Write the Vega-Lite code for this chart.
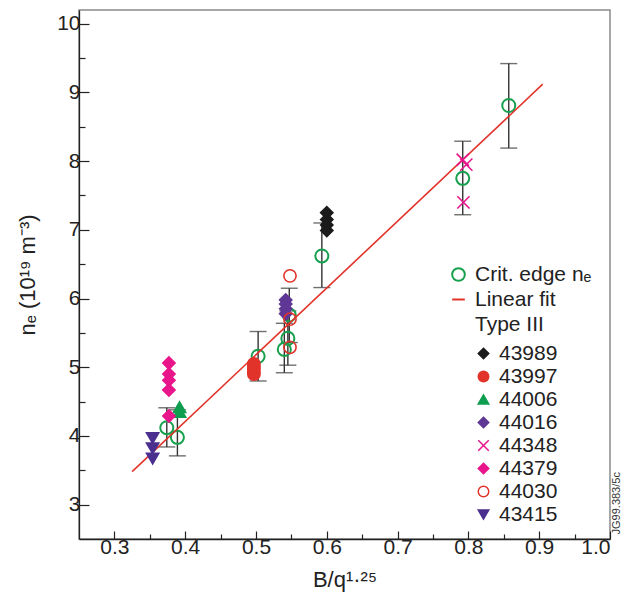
{
  "$schema": "https://vega.github.io/schema/vega-lite/v6.json",
  "width": 531,
  "height": 529,
  "autosize": {"type": "none"},
  "padding": {"left": 79, "top": 10, "right": 14, "bottom": 62},
  "background": "white",
  "config": {
    "view": {"stroke": "#8a8a8a", "strokeWidth": 1.5},
    "font": "Liberation Sans",
    "axis": {
      "grid": false,
      "domainColor": "#222",
      "domainWidth": 1.3,
      "tickColor": "#222",
      "tickWidth": 1.2,
      "labelFont": "Liberation Sans",
      "labelFontSize": 21,
      "labelColor": "#222",
      "titleFont": "Liberation Sans",
      "titleFontSize": 22,
      "titleFontWeight": "normal",
      "titleColor": "#222"
    },
    "legend": {
      "labelFont": "Liberation Sans",
      "labelFontSize": 21,
      "labelColor": "#222"
    }
  },
  "datasets": {
    "crit": [
      {"b": 0.374, "ne": 4.12, "lo": 3.84, "hi": 4.41, "series": "Crit. edge nₑ"},
      {"b": 0.389, "ne": 3.98, "lo": 3.71, "hi": 4.38, "series": "Crit. edge nₑ"},
      {"b": 0.503, "ne": 5.16, "lo": 4.8, "hi": 5.52, "series": "Crit. edge nₑ"},
      {"b": 0.54, "ne": 5.26, "lo": 4.92, "hi": 5.64, "series": "Crit. edge nₑ"},
      {"b": 0.545, "ne": 5.42, "lo": 5.03, "hi": 5.82, "series": "Crit. edge nₑ"},
      {"b": 0.547, "ne": 5.76, "lo": 5.36, "hi": 6.15, "series": "Crit. edge nₑ"},
      {"b": 0.593, "ne": 6.62, "lo": 6.16, "hi": 7.1, "series": "Crit. edge nₑ"},
      {"b": 0.792, "ne": 7.75, "lo": 7.22, "hi": 8.29, "series": "Crit. edge nₑ"},
      {"b": 0.857, "ne": 8.81, "lo": 8.19, "hi": 9.42, "series": "Crit. edge nₑ"}
    ],
    "fit": [
      {"b": 0.325, "ne": 3.48, "series": "Linear fit"},
      {"b": 0.905, "ne": 9.12, "series": "Linear fit"}
    ],
    "shots": [
      {"b": 0.6, "ne": 7.25, "shot": "43989"},
      {"b": 0.6, "ne": 7.15, "shot": "43989"},
      {"b": 0.6, "ne": 7.07, "shot": "43989"},
      {"b": 0.6, "ne": 6.99, "shot": "43989"},
      {"b": 0.497, "ne": 5.05, "shot": "43997"},
      {"b": 0.497, "ne": 5.01, "shot": "43997"},
      {"b": 0.497, "ne": 4.97, "shot": "43997"},
      {"b": 0.497, "ne": 4.93, "shot": "43997"},
      {"b": 0.497, "ne": 4.9, "shot": "43997"},
      {"b": 0.392, "ne": 4.42, "shot": "44006"},
      {"b": 0.392, "ne": 4.35, "shot": "44006"},
      {"b": 0.542, "ne": 5.98, "shot": "44016"},
      {"b": 0.542, "ne": 5.92, "shot": "44016"},
      {"b": 0.542, "ne": 5.85, "shot": "44016"},
      {"b": 0.542, "ne": 5.78, "shot": "44016"},
      {"b": 0.792, "ne": 8.02, "shot": "44348"},
      {"b": 0.797, "ne": 7.95, "shot": "44348"},
      {"b": 0.793, "ne": 7.4, "shot": "44348"},
      {"b": 0.377, "ne": 5.06, "shot": "44379"},
      {"b": 0.377, "ne": 4.9, "shot": "44379"},
      {"b": 0.377, "ne": 4.81, "shot": "44379"},
      {"b": 0.377, "ne": 4.67, "shot": "44379"},
      {"b": 0.377, "ne": 4.29, "shot": "44379"},
      {"b": 0.548, "ne": 6.33, "shot": "44030"},
      {"b": 0.548, "ne": 5.7, "shot": "44030"},
      {"b": 0.548, "ne": 5.29, "shot": "44030"},
      {"b": 0.354, "ne": 3.97, "shot": "43415"},
      {"b": 0.354, "ne": 3.82, "shot": "43415"},
      {"b": 0.354, "ne": 3.67, "shot": "43415"}
    ],
    "tag": [
      {"b": 1.0, "ne": 3.02, "txt": "JG99.383/5c"}
    ]
  },
  "encoding": {
    "x": {
      "field": "b",
      "type": "quantitative",
      "scale": {"domain": [0.25, 1.0], "nice": false, "zero": false},
      "axis": {
        "title": "B/q¹·²⁵",
        "values": [0.3, 0.35, 0.4, 0.45, 0.5, 0.55, 0.6, 0.65, 0.7, 0.75, 0.8, 0.85, 0.9, 0.95, 1.0],
        "labelExpr": "abs(datum.value * 10 - round(datum.value * 10)) < 0.01 ? format(datum.value, '.1f') : ''",
        "tickSize": {"condition": {"test": "abs(datum.value * 10 - round(datum.value * 10)) < 0.01", "value": -8}, "value": -5},
        "labelPadding": 5,
        "titlePadding": 12
      }
    },
    "y": {
      "field": "ne",
      "type": "quantitative",
      "scale": {"domain": [2.5, 10.2], "nice": false, "zero": false},
      "axis": {
        "title": "nₑ (10¹⁹ m⁻³)",
        "values": [3, 3.5, 4, 4.5, 5, 5.5, 6, 6.5, 7, 7.5, 8, 8.5, 9, 9.5, 10],
        "labelExpr": "datum.value % 1 === 0 ? format(datum.value, 'd') : ''",
        "tickSize": {"condition": {"test": "datum.value % 1 === 0", "value": -10}, "value": -6},
        "labelPadding": 9,
        "titlePadding": 17
      }
    }
  },
  "layer": [
    {
      "data": {"name": "crit"},
      "mark": {"type": "rule", "color": "#333", "strokeWidth": 1.4},
      "encoding": {"y": {"field": "lo", "type": "quantitative"}, "y2": {"field": "hi"}}
    },
    {
      "data": {"name": "crit"},
      "mark": {"type": "tick", "orient": "horizontal", "color": "#333", "size": 17, "thickness": 1.4},
      "encoding": {"y": {"field": "lo", "type": "quantitative"}}
    },
    {
      "data": {"name": "crit"},
      "mark": {"type": "tick", "orient": "horizontal", "color": "#333", "size": 17, "thickness": 1.4},
      "encoding": {"y": {"field": "hi", "type": "quantitative"}}
    },
    {
      "layer": [
        {
          "data": {"name": "crit"},
          "mark": {"type": "point", "filled": false, "strokeWidth": 2, "size": 170, "opacity": 1},
          "encoding": {
            "shape": {
              "field": "series",
              "type": "nominal",
              "scale": {"domain": ["Crit. edge nₑ", "Linear fit", "Type III"], "range": ["circle", "stroke", "circle"]},
              "legend": {
                "orient": "none",
                "legendX": 369,
                "legendY": 254,
                "title": null,
                "symbolSize": 160,
                "symbolStrokeWidth": 2,
                "symbolFillColor": "transparent",
                "rowPadding": 3,
                "labelOffset": 6,
                "padding": 0
              }
            },
            "stroke": {
              "field": "series",
              "type": "nominal",
              "scale": {"domain": ["Crit. edge nₑ", "Linear fit", "Type III"], "range": ["#17a04e", "#e2332a", "transparent"]},
              "legend": {
                "orient": "none",
                "legendX": 369,
                "legendY": 254,
                "title": null
              }
            }
          }
        },
        {
          "data": {"name": "fit"},
          "mark": {"type": "line", "strokeWidth": 1.6},
          "encoding": {
            "stroke": {"field": "series", "type": "nominal"}
          }
        }
      ]
    },
    {
      "data": {"name": "shots"},
      "mark": {"type": "point", "strokeWidth": 1.6, "size": 150, "opacity": 1},
      "encoding": {
        "shape": {
          "field": "shot",
          "type": "nominal",
          "scale": {
            "domain": ["43989", "43997", "44006", "44016", "44348", "44379", "44030", "43415"],
            "range": ["diamond", "circle", "triangle-up", "diamond", "M-1,-1L1,1M-1,1L1,-1", "diamond", "circle", "triangle-down"]
          },
          "legend": {
            "orient": "none",
            "legendX": 394,
            "legendY": 333,
            "title": null,
            "symbolSize": 110,
            "symbolStrokeWidth": 1.5,
            "rowPadding": 1,
            "labelOffset": 5,
            "padding": 0
          }
        },
        "fill": {
          "field": "shot",
          "type": "nominal",
          "scale": {
            "domain": ["43989", "43997", "44006", "44016", "44348", "44379", "44030", "43415"],
            "range": ["#1b1b1b", "#e2332a", "#0f9e4f", "#5f3795", "transparent", "#e8158b", "transparent", "#4b2f8f"]
          },
          "legend": {"orient": "none", "legendX": 394, "legendY": 333, "title": null}
        },
        "stroke": {
          "field": "shot",
          "type": "nominal",
          "scale": {
            "domain": ["43989", "43997", "44006", "44016", "44348", "44379", "44030", "43415"],
            "range": ["#1b1b1b", "#e2332a", "#0f9e4f", "#5f3795", "#e8158b", "#e8158b", "#e2332a", "#4b2f8f"]
          },
          "legend": {"orient": "none", "legendX": 394, "legendY": 333, "title": null}
        }
      }
    },
    {
      "data": {"name": "tag"},
      "mark": {"type": "text", "angle": 270, "align": "center", "baseline": "middle", "dy": 7, "fontSize": 11, "color": "#333", "font": "Liberation Sans"},
      "encoding": {"text": {"field": "txt"}}
    }
  ],
  "resolve": {
    "scale": {"shape": "independent", "stroke": "independent", "fill": "independent"},
    "legend": {"shape": "independent", "stroke": "independent", "fill": "independent"}
  }
}
